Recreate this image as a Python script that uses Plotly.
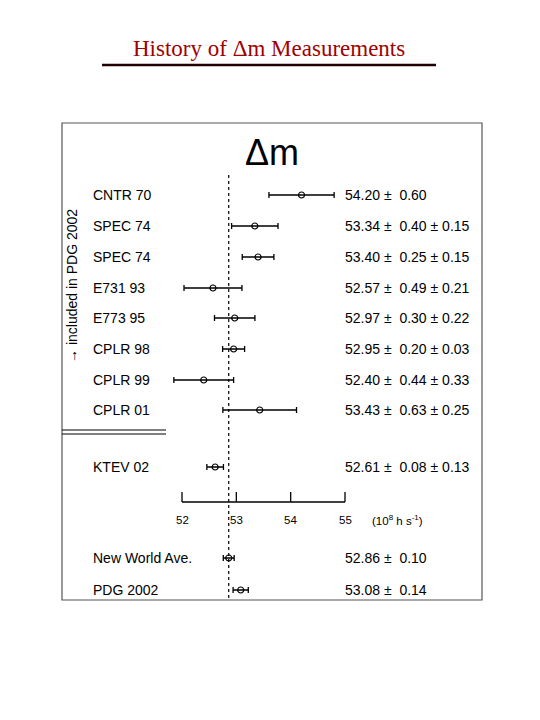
import plotly.graph_objects as go
import math

labels = ["CNTR 70","SPEC 74","SPEC 74","E731 93","E773 95","CPLR 98","CPLR 99","CPLR 01","KTEV 02","New World Ave.","PDG 2002"]
values = [54.20,53.34,53.40,52.57,52.97,52.95,52.40,53.43,52.61,52.86,53.08]
stat = [0.60,0.40,0.25,0.49,0.30,0.20,0.44,0.63,0.08,0.10,0.14]
syst = [None,0.15,0.15,0.21,0.22,0.03,0.33,0.25,0.13,None,None]
ticks = [52,53,54,55]
world_ave = 52.86

rows_y = [195,226,257,288,318,349,380,410,467,558,590]
errs = [math.hypot(s, y or 0) for s, y in zip(stat, syst)]

OFF = 8  # page body offset
ppu = (345-182)/3
x0 = 52 - (182-OFF)/ppu
x1 = x0 + 540/ppu
def px(p): return 52 + (p-182)/ppu

fig = go.Figure()
fig.add_trace(go.Scatter(x=values, y=rows_y, mode="markers",
    marker=dict(symbol="circle-open", size=6, color="black", line=dict(width=1.2)),
    error_x=dict(type="data", array=errs, color="black", thickness=1.3, width=3),
    showlegend=False))

F = "Liberation Sans"
ann = []
for lab, v, s, sy, yy in zip(labels, values, stat, syst, rows_y):
    ann.append(dict(x=px(91), y=yy, text=lab, showarrow=False, xanchor="left",
                    font=dict(family=F, size=14, color="black")))
    t = f"{v:.2f} ±  {s:.2f}" + (f" ± {sy:.2f}" if sy is not None else "")
    ann.append(dict(x=px(343), y=yy, text=t, showarrow=False, xanchor="left",
                    font=dict(family=F, size=14, color="black")))
for t in ticks:
    ann.append(dict(x=t, y=520, text=str(t), showarrow=False,
                    font=dict(family=F, size=11.5, color="black")))
ann.append(dict(x=px(370), y=520, text="(10<sup>8</sup> h s<sup>-1</sup>)", showarrow=False, xanchor="left",
                font=dict(family=F, size=11.5, color="black")))
ann.append(dict(x=px(272), y=152, text="Δm", showarrow=False,
                font=dict(family=F, size=36, color="black")))
ann.append(dict(x=px(72), y=286, text="→ included in PDG 2002", showarrow=False, textangle=-90,
                font=dict(family=F, size=14, color="black")))
ann.append(dict(x=px(269), y=48, text="History of Δm Measurements", showarrow=False,
                font=dict(family="Liberation Serif", size=23, color="#a00000")))

shapes = [
    dict(type="rect", x0=px(62), x1=px(482), y0=123, y1=600, line=dict(color="#555", width=1.2)),
    dict(type="line", x0=px(102), x1=px(436), y0=65, y1=65, line=dict(color="#200000", width=2.5)),
    dict(type="line", x0=px(62), x1=px(166), y0=430, y1=430, line=dict(color="black", width=1)),
    dict(type="line", x0=px(62), x1=px(166), y0=434, y1=434, line=dict(color="black", width=1)),
    dict(type="line", x0=world_ave, x1=world_ave, y0=175, y1=598, line=dict(color="black", width=1.2, dash="dot")),
    dict(type="line", x0=ticks[0], x1=ticks[-1], y0=502, y1=502, line=dict(color="black", width=1.3)),
]
for t in ticks:
    shapes.append(dict(type="line", x0=t, x1=t, y0=492, y1=502, line=dict(color="black", width=1.3)))

fig.update_layout(width=540, height=720, margin=dict(l=0, r=0, t=0, b=0),
    paper_bgcolor="white", plot_bgcolor="white",
    xaxis=dict(range=[x0, x1], visible=False, fixedrange=True),
    yaxis=dict(range=[720+OFF, OFF], visible=False, fixedrange=True),
    annotations=ann, shapes=shapes)
fig.write_html("out.html")
